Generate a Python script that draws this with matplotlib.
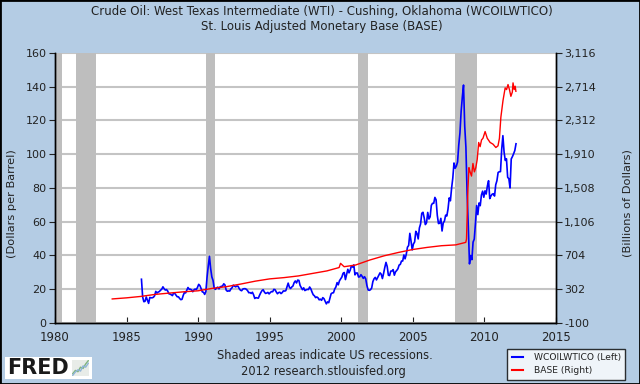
import numpy as np
import matplotlib.pyplot as plt

# WTI crude, monthly, starting Jan 1986 (dollars per barrel)
wti_start = 1986
wti = [
    25.9, 15.4, 12.6, 12.8, 15.4, 13.5, 11.6, 15.1, 14.9, 14.9, 15.2, 16.1,   # 1986
    18.7, 17.7, 18.3, 18.6, 19.4, 20.0, 21.4, 20.3, 19.5, 19.8, 18.9, 17.3,   # 1987
    17.1, 16.7, 16.2, 17.9, 17.4, 16.5, 15.5, 15.5, 14.5, 13.8, 14.0, 16.3,   # 1988
    18.0, 17.8, 19.4, 21.0, 20.0, 20.0, 19.6, 18.5, 19.6, 20.1, 19.8, 21.1,   # 1989
    22.9, 22.1, 20.4, 18.4, 18.2, 16.9, 18.6, 27.2, 33.7, 39.5, 32.3, 27.3,   # 1990
    25.2, 20.5, 19.9, 20.8, 21.2, 20.2, 21.4, 21.7, 21.9, 23.2, 22.5, 19.5,   # 1991
    18.8, 19.0, 18.9, 20.2, 20.9, 22.4, 21.8, 21.4, 21.9, 21.7, 20.3, 19.4,   # 1992
    19.1, 20.1, 20.3, 20.3, 19.9, 19.1, 17.9, 18.0, 17.5, 18.2, 16.7, 14.5,   # 1993
    15.0, 14.8, 14.7, 16.4, 17.9, 19.1, 19.7, 18.4, 17.5, 17.7, 18.1, 17.2,   # 1994
    18.0, 18.6, 18.5, 19.9, 19.7, 18.4, 17.3, 18.0, 18.2, 17.4, 18.0, 19.0,   # 1995
    18.9, 19.1, 21.4, 23.6, 21.2, 20.4, 21.3, 21.9, 23.9, 24.9, 23.7, 25.4,   # 1996
    25.2, 22.2, 21.0, 19.7, 20.8, 19.2, 19.6, 19.9, 19.8, 21.3, 20.2, 18.3,   # 1997
    16.7, 16.1, 15.0, 15.4, 14.9, 13.7, 14.1, 13.4, 15.0, 14.4, 12.9, 11.3,   # 1998
    12.5, 12.0, 14.7, 17.3, 17.8, 17.9, 20.1, 21.3, 23.9, 22.6, 25.0, 26.1,   # 1999
    27.2, 29.4, 29.9, 25.7, 28.8, 31.8, 29.7, 31.3, 33.9, 33.1, 34.4, 28.5,   # 2000
    29.6, 29.6, 27.2, 27.4, 28.6, 27.6, 26.4, 27.4, 26.2, 22.2, 19.6, 19.3,   # 2001
    19.7, 20.7, 24.5, 26.2, 27.0, 25.5, 26.9, 28.4, 29.7, 28.9, 26.3, 29.4,   # 2002
    32.9, 35.9, 33.5, 28.3, 28.1, 30.7, 30.8, 31.6, 28.3, 30.3, 31.1, 32.1,   # 2003
    34.3, 34.7, 36.7, 36.7, 40.3, 38.0, 40.7, 44.9, 45.9, 53.1, 48.5, 43.3,   # 2004
    46.8, 48.0, 54.3, 53.0, 49.8, 56.3, 58.7, 65.0, 65.6, 62.4, 58.3, 59.4,   # 2005
    65.5, 61.6, 62.9, 69.7, 70.9, 70.9, 74.4, 73.0, 63.8, 58.9, 59.1, 62.0,   # 2006
    54.5, 59.3, 60.4, 63.9, 63.4, 67.5, 74.1, 72.4, 79.9, 85.8, 94.8, 91.7,   # 2007
    93.0, 95.4, 105.4, 112.6, 125.4, 133.9, 141.0, 116.7, 104.1, 76.6, 57.3, 35.0,  # 2008
    40.0, 37.5, 47.9, 49.7, 59.0, 69.6, 64.2, 71.1, 69.5, 75.8, 78.1, 74.5,   # 2009
    78.3, 76.4, 81.2, 84.3, 73.7, 75.3, 76.3, 76.6, 75.2, 81.9, 84.3, 89.2,   # 2010
    89.6, 89.7, 102.9, 111.0, 101.3, 96.3, 97.3, 86.3, 85.5, 80.0, 97.2, 98.6,  # 2011
    100.3, 102.2, 106.2,                                                      # 2012
]

# St. Louis adjusted monetary base (billions of dollars)
base_t = [1984.0, 1985.0, 1986.0, 1987.0, 1988.0, 1989.0, 1990.0, 1991.0, 1992.0,
          1993.0, 1994.0, 1995.0, 1996.0, 1997.0, 1998.0, 1999.0, 1999.85, 1999.95,
          2000.2, 2001.0, 2002.0, 2003.0, 2004.0, 2005.0, 2006.0, 2007.0, 2008.0,
          2008.70, 2008.75, 2008.80, 2008.85, 2008.92, 2009.00, 2009.10, 2009.20,
          2009.30, 2009.40, 2009.50, 2009.60, 2009.70, 2009.80, 2009.90, 2010.05,
          2010.20, 2010.40, 2010.60, 2010.80, 2010.95, 2011.05, 2011.15, 2011.30,
          2011.45, 2011.55, 2011.65, 2011.75, 2011.85, 2011.95, 2012.00, 2012.08,
          2012.15, 2012.20]
base_v = [186, 199, 216, 240, 256, 271, 283, 312, 333,
          364, 398, 425, 440, 460, 490, 520, 560, 610,
          570, 590, 650, 700, 740, 775, 800, 820, 830,
          860, 900, 1200, 1500, 1750, 1700, 1650, 1800,
          1700, 1750, 1850, 2050, 2000, 2080, 2100, 2180,
          2100, 2050, 2030, 1990, 2010, 2100, 2350, 2550,
          2700, 2680, 2740, 2680, 2600, 2650, 2760, 2680,
          2720, 2660]

recessions = [(1980.0, 1980.5), (1981.5, 1982.9), (1990.55, 1991.2),
              (2001.2, 2001.9), (2007.95, 2009.5)]

# little chart in the FRED logo
icon_green = [1, 2, 1.6, 3, 2.6, 4, 5]
icon_blue = [0.5, 1.5, 2.2, 1.8, 3.4, 3.0, 4.2]

wti_t = wti_start + (np.arange(len(wti)) + 0.5) / 12.0

bg = '#b4cce4'
txt = '#222222'
fig = plt.figure(figsize=(6.4, 3.84), dpi=100, facecolor=bg)
ax = fig.add_axes([0.0859, 0.159, 0.7828, 0.703])
ax.set_facecolor('white')

for a, b in recessions:
    ax.axvspan(a, b, color='#bebebe', lw=0, zorder=1)

ax.set_xlim(1980, 2015)
ax.set_ylim(0, 160)
ax.set_yticks(np.arange(0, 161, 20))
ax.set_xticks(np.arange(1980, 2016, 5))
ax.yaxis.grid(True, color='#c4c4c4', lw=1.5, zorder=0)
ax.set_axisbelow(True)

ax.plot(wti_t, wti, color='#0000ff', lw=1.2, zorder=3)

ax2 = ax.twinx()
ax2.set_ylim(-100, 3116)
ax2.set_yticks(np.arange(-100, 3117, 402))
ax2.set_yticklabels(['{:,}'.format(v) for v in range(-100, 3117, 402)])
ax2.plot(base_t, base_v, color='#ff0000', lw=1.0, zorder=3)

for a_ in (ax, ax2):
    a_.spines['top'].set_visible(False)
    for s in a_.spines.values():
        s.set_linewidth(1.0)
    a_.tick_params(labelsize=8, colors=txt, length=4)
ax.tick_params(axis='x', direction='in', pad=6, labelsize=8.5)
ax.tick_params(axis='y', direction='out', pad=2)
ax2.tick_params(axis='y', direction='out', pad=2)

fig.text(0.503, 0.969, 'Crude Oil: West Texas Intermediate (WTI) - Cushing, Oklahoma (WCOILWTICO)',
         ha='center', va='center', fontsize=8.5, color=txt)
fig.text(0.503, 0.932, 'St. Louis Adjusted Monetary Base (BASE)',
         ha='center', va='center', fontsize=8.5, color=txt)
fig.text(0.019, 0.47, '(Dollars per Barrel)', rotation=90, ha='center', va='center',
         fontsize=8.2, color=txt)
fig.text(0.98, 0.47, '(Billions of Dollars)', rotation=90, ha='center', va='center',
         fontsize=8.2, color=txt)
fig.text(0.508, 0.073, 'Shaded areas indicate US recessions.', ha='center', va='center',
         fontsize=8.3, color=txt)
fig.text(0.505, 0.032, '2012 research.stlouisfed.org', ha='center', va='center',
         fontsize=8.3, color=txt)

# FRED logo
fig.patches.append(plt.Rectangle((5 / 640, 5 / 384), 87 / 640, 22 / 384,
                                 transform=fig.transFigure, facecolor='white',
                                 edgecolor='none', zorder=0))
fig.text(0.011, 0.042, 'FRED', ha='left', va='center', fontsize=15, fontweight='bold',
         color='#1a1a1a')
icon = fig.add_axes([72 / 640, 8 / 384, 17 / 640, 16 / 384], zorder=5)
icon.set_facecolor('#e8ece8')
icon.plot(icon_green, color='#7fb37f', lw=1.0)
icon.plot(icon_blue, color='#8fb4d8', lw=1.0)
icon.set_xticks([])
icon.set_yticks([])
for s in icon.spines.values():
    s.set_visible(False)

leg_lines = [plt.Line2D([], [], color='#0000ff', lw=1.5),
             plt.Line2D([], [], color='#ff0000', lw=1.5)]
leg = fig.legend(leg_lines, ['WCOILWTICO (Left)', 'BASE (Right)'],
                 loc='lower left', bbox_to_anchor=(507 / 640, 4 / 384), fontsize=6.6,
                 frameon=True, fancybox=False, handlelength=1.2, borderpad=0.5,
                 labelspacing=0.45, handletextpad=1.2, borderaxespad=0,
                 labelcolor=txt)
leg.get_frame().set_edgecolor('black')
leg.get_frame().set_linewidth(1.0)

fig.patches.append(plt.Rectangle((0, 0), 1, 1, transform=fig.transFigure, fill=False,
                                 edgecolor='black', lw=2))

fig.savefig('out.png', dpi=100, facecolor=bg)
